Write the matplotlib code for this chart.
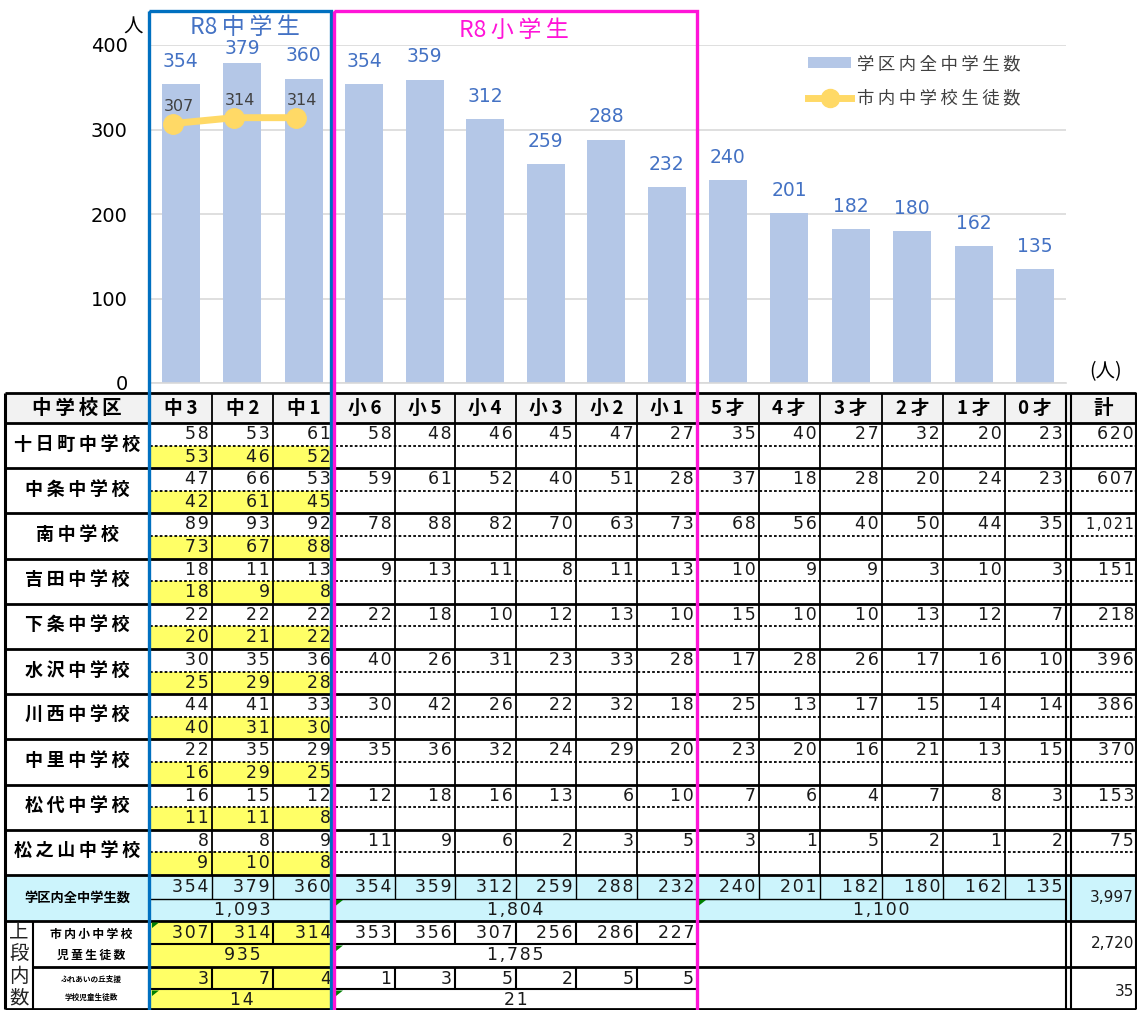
import matplotlib
matplotlib.use('Agg')
import matplotlib.pyplot as plt
from matplotlib.patches import Rectangle, Polygon, Patch
from matplotlib.lines import Line2D

plt.rcParams['font.family'] = ['Noto Sans CJK JP', 'DejaVu Sans']

# ---------------- data ----------------
grades = ['中3', '中2', '中1', '小6', '小5', '小4', '小3', '小2', '小1',
          '5才', '4才', '3才', '2才', '1才', '0才']
totals = [354, 379, 360, 354, 359, 312, 259, 288, 232, 240, 201, 182, 180, 162, 135]
city_mid = [307, 314, 314]
yticks = [0, 100, 200, 300, 400]

schools = ['十日町中学校', '中条中学校', '南中学校', '吉田中学校', '下条中学校',
           '水沢中学校', '川西中学校', '中里中学校', '松代中学校', '松之山中学校']
school_vals = [
    [58, 53, 61, 58, 48, 46, 45, 47, 27, 35, 40, 27, 32, 20, 23],
    [47, 66, 53, 59, 61, 52, 40, 51, 28, 37, 18, 28, 20, 24, 23],
    [89, 93, 92, 78, 88, 82, 70, 63, 73, 68, 56, 40, 50, 44, 35],
    [18, 11, 13, 9, 13, 11, 8, 11, 13, 10, 9, 9, 3, 10, 3],
    [22, 22, 22, 22, 18, 10, 12, 13, 10, 15, 10, 10, 13, 12, 7],
    [30, 35, 36, 40, 26, 31, 23, 33, 28, 17, 28, 26, 17, 16, 10],
    [44, 41, 33, 30, 42, 26, 22, 32, 18, 25, 13, 17, 15, 14, 14],
    [22, 35, 29, 35, 36, 32, 24, 29, 20, 23, 20, 16, 21, 13, 15],
    [16, 15, 12, 12, 18, 16, 13, 6, 10, 7, 6, 4, 7, 8, 3],
    [8, 8, 9, 11, 9, 6, 2, 3, 5, 3, 1, 5, 2, 1, 2],
]
school_sum = ['620', '607', '1,021', '151', '218', '396', '386', '370', '153', '75']
school_city = [[53, 46, 52], [42, 61, 45], [73, 67, 88], [18, 9, 8], [20, 21, 22],
               [25, 29, 28], [40, 31, 30], [16, 29, 25], [11, 11, 8], [9, 10, 8]]
group_sums = ['1,093', '1,804', '1,100']
grand_total = '3,997'
city_row = [307, 314, 314, 353, 356, 307, 256, 286, 227]
city_groups = ['935', '1,785']
city_total = '2,720'
fureai_row = [3, 7, 4, 1, 3, 5, 2, 5, 5]
fureai_groups = ['14', '21']
fureai_total = '35'

# ---------------- layout ----------------
W, H = 1137, 1010
fig = plt.figure(figsize=(W / 100, H / 100), dpi=100)

def fx(p):
    return p / W

def fy(p):
    return 1 - p / H

def sp(s, ch='\u200a'):
    return ch.join(s)

edges = [150, 211.5, 273, 334, 394.5, 455, 515.5, 576, 636.5, 697,
         758.5, 820, 881.5, 943, 1004.5, 1066]
centers = [(edges[i] + edges[i + 1]) / 2 for i in range(15)]
BAR_C = '#B4C7E7'
LINE_C = '#FFD966'
BLUE = '#0070C0'
PINK = '#FF14D8'
YEL = '#FFFF66'
CYAN = '#CCF4FC'
HDR = '#F2F2F2'
DJ = ['DejaVu Sans']

# ---------------- chart ----------------
y0, y400 = 383, 45
C = fig.add_axes([fx(150), fy(y0), fx(1066) - fx(150), fy(y400) - fy(y0)])
C.set_xlim(150, 1066)
C.set_ylim(0, 400)
C.bar(centers, totals, width=38, color=BAR_C, zorder=2)
for x, v in zip(centers, totals):
    C.text(x, min(v + 27, 396), str(v), ha='center', va='center',
           fontsize=13.5, color='#4472C4', family=DJ, zorder=4)
lx = [c - 8 for c in centers[:3]]
C.plot(lx, city_mid, color=LINE_C, lw=5, marker='o', ms=14, zorder=3)
for x, v in zip(centers[:3], city_mid):
    C.text(x - 2, v + 20, str(v), ha='center', va='center', fontsize=11.5,
           color='#404040', family=DJ, zorder=4)
C.set_yticks(yticks)
C.set_yticklabels([str(t) for t in yticks], family=DJ)
C.set_xticks([])
C.yaxis.grid(True, color='#D9D9D9', lw=1.2)
C.set_axisbelow(True)
for s in ['top', 'right', 'left']:
    C.spines[s].set_visible(False)
C.spines['bottom'].set_color('#D9D9D9')
C.spines['bottom'].set_linewidth(1.2)
C.tick_params(axis='y', length=0, pad=16, labelsize=14, labelcolor='black')
C.patch.set_alpha(0)

handles = [Patch(facecolor=BAR_C, edgecolor='none'),
           Line2D([], [], color=LINE_C, lw=5, marker='o', ms=13)]
C.legend(handles, [sp('学区内全中学生数', '\u2009'), sp('市内中学校生徒数', '\u2009')],
         loc='upper left',
         bbox_to_anchor=(fx(808), fy(55)), bbox_transform=fig.transFigure,
         frameon=False, fontsize=12.5, labelcolor='#404040', handlelength=2.5,
         handleheight=0.6, handletextpad=0.35, labelspacing=0.95,
         borderpad=0, borderaxespad=0)

# ---------------- table ----------------
T = fig.add_axes([0, 0, 1, 1], zorder=3)
T.set_xlim(0, W)
T.set_ylim(H, 0)
T.axis('off')

hdr_top, hdr_bot = 393, 423
row_h = 45.2
rows_top = [hdr_bot + i * row_h for i in range(11)]
tot_top, tot_mid, tot_bot = 875, 898.5, 921
c1_top, c1_mid, c1_bot = 921, 944, 967
c2_top, c2_mid, c2_bot = 967, 989, 1009
XL, XR = 5, 1136
XD1, XD2 = 1066, 1071

def rect(x0, y0_, x1, y1, color):
    T.add_patch(Rectangle((x0, y0_), x1 - x0, y1 - y0_, facecolor=color,
                          edgecolor='none', zorder=1))

def hline(y, x0, x1, lw=1.8, ls='-'):
    T.plot([x0, x1], [y, y], color='black', lw=lw, ls=ls, zorder=3,
           solid_capstyle='butt')

def vline(x, ya, yb, lw=1.3):
    T.plot([x, x], [ya, yb], color='black', lw=lw, zorder=3,
           solid_capstyle='butt')

NUM = dict(fontsize=12.5, color='#1a1a1a', family=DJ)

def rnum(xr, y, s, **kw):
    d = dict(NUM)
    d.update(kw)
    T.text(xr - 3, y, sp(s), ha='right', va='center', zorder=4, **d)

def cnum(x, y, s, **kw):
    d = dict(NUM)
    d.update(kw)
    T.text(x, y, sp(s), ha='center', va='center', zorder=4, **d)

# fills
rect(XL, hdr_top, XR, hdr_bot, HDR)
for i in range(10):
    rect(edges[0], rows_top[i] + 22.6, edges[3], rows_top[i + 1], YEL)
rect(XL, tot_top, XR, tot_bot, CYAN)
rect(edges[0], c1_top, edges[3], c2_bot + 2, YEL)

# header texts
T.text(77, 408, sp('中学校区', '\u2009'), ha='center', va='center', fontsize=14,
       fontweight='bold', zorder=4)
for x, g in zip(centers, grades):
    T.text(x, 408, sp(g, '\u2009'), ha='center', va='center', fontsize=13.5,
           fontweight='bold', zorder=4)
T.text((XD2 + XR) / 2, 408, '計', ha='center', va='center', fontsize=14,
       fontweight='bold', zorder=4)

# school rows
for i, name in enumerate(schools):
    top = rows_top[i]
    T.text(77, top + 21, sp(name, '\u2009'), ha='center', va='center',
           fontsize=13, fontweight='bold', zorder=4)
    for j, v in enumerate(school_vals[i]):
        rnum(edges[j + 1], top + 11, str(v))
    for j, v in enumerate(school_city[i]):
        rnum(edges[j + 1], top + 33.5, str(v))
    small = len(school_sum[i]) > 3
    rnum(XR + 1, top + 11, school_sum[i], fontsize=10.5 if small else 12.5)
    hline(top + 22.6, edges[0], XR, lw=1.3, ls=(0, (1.5, 1.2)))

# totals row
for j, v in enumerate(totals):
    rnum(edges[j + 1], tot_top + 12, str(v))
grp = [(0, 3), (3, 9), (9, 15)]
for (a, b), s in zip(grp, group_sums):
    cnum((edges[a] + edges[b]) / 2, tot_mid + 11.5, s)
T.text(XR - 2, (tot_top + tot_bot) / 2, grand_total, ha='right', va='center',
       fontsize=11, family=DJ, color='#1a1a1a', zorder=4)
T.text(77, (tot_top + tot_bot) / 2, '学区内全中学生数', ha='center', va='center',
       fontsize=9.5, fontweight='bold', zorder=4)

# city rows
for j, v in enumerate(city_row):
    rnum(edges[j + 1], c1_top + 12, str(v))
for (a, b), s in zip(grp[:2], city_groups):
    cnum((edges[a] + edges[b]) / 2, c1_mid + 11.5, s)
T.text(XR - 2, (c1_top + c1_bot) / 2, city_total, ha='right', va='center',
       fontsize=11, family=DJ, color='#1a1a1a', zorder=4)
for j, v in enumerate(fureai_row):
    rnum(edges[j + 1], c2_top + 11.5, str(v))
for (a, b), s in zip(grp[:2], fureai_groups):
    cnum((edges[a] + edges[b]) / 2, c2_mid + 11, s)
T.text(XR - 2, (c2_top + c2_bot) / 2 + 3, fureai_total, ha='right', va='center',
       fontsize=11, family=DJ, color='#1a1a1a', zorder=4)

for k, ch in enumerate('上段内数'):
    T.text(19, 932 + k * 22, ch, ha='center', va='center', fontsize=14,
           color='#222222', zorder=4)
T.text(91, 934, sp('市内小中学校', '\u2009'), ha='center', va='center',
       fontsize=8.5, fontweight='bold', zorder=4)
T.text(91, 955, sp('児童生徒数', '\u2009'), ha='center', va='center',
       fontsize=8.5, fontweight='bold', zorder=4)
T.text(91, 979, 'ふれあいの丘支援', ha='center', va='center',
       fontsize=5.5, fontweight='bold', zorder=4)
T.text(91, 997, '学校児童生徒数', ha='center', va='center',
       fontsize=5.5, fontweight='bold', zorder=4)

# grid lines
for y in [hdr_top, hdr_bot] + rows_top[1:] + [tot_bot, c2_bot]:
    hline(y, XL, XR, lw=2.0)
hline(c1_bot, 33, XR, lw=2.0)
hline(tot_mid, edges[0], XD1, lw=1.0)
hline(c1_mid, edges[0], edges[9], lw=1.5)
hline(c2_mid, edges[0], edges[9], lw=1.5)
for x in edges[1:-1]:
    vline(x, hdr_top, tot_top)
for x in edges[1:]:
    if x not in (edges[3], edges[9], edges[15]):
        vline(x, tot_top, tot_mid, lw=1.0)
for x in edges[1:9]:
    if x != edges[3]:
        vline(x, c1_top, c1_mid, lw=1.5)
        vline(x, c2_top, c2_mid, lw=1.5)
vline(XL, hdr_top, c2_bot, lw=2.2)
vline(XR, hdr_top, c2_bot, lw=1.5)
vline(XD1, hdr_top, c2_bot, lw=1.5)
vline(XD2, hdr_top, c2_bot, lw=1.5)
vline(33, c1_top, c2_bot, lw=1.5)

# green triangles (cell markers)
for (tx, ty) in [(edges[3], tot_mid), (edges[9], tot_mid), (edges[0], c1_top),
                 (edges[3], c1_mid), (edges[0], c2_mid), (edges[3], c2_mid)]:
    T.add_patch(Polygon([(tx + 2, ty + 1.5), (tx + 9, ty + 1.5), (tx + 2, ty + 7)],
                        closed=True, facecolor='#008000', edgecolor='none', zorder=5))

# coloured frames
T.add_patch(Rectangle((149, 11), 182, 1010, facecolor='none', edgecolor=BLUE,
                      lw=2.4, zorder=6))
T.add_patch(Rectangle((334, 11), 363, 1010, facecolor='none', edgecolor=PINK,
                      lw=2.4, zorder=6))
T.text(245, 28, 'R8\u2009' + sp('中学生', '\u2009'), ha='center', va='center',
       fontsize=16.5, color='#4472C4', zorder=6)
T.text(514, 30, 'R8\u2009' + sp('小学生', '\u2009'), ha='center', va='center',
       fontsize=16.5, color=PINK, zorder=6)
T.text(133, 27, '人', ha='center', va='center', fontsize=14, zorder=6)
T.text(1106, 372, '(人)', ha='center', va='center', fontsize=14, zorder=6)

fig.savefig('out.png', dpi=100)
